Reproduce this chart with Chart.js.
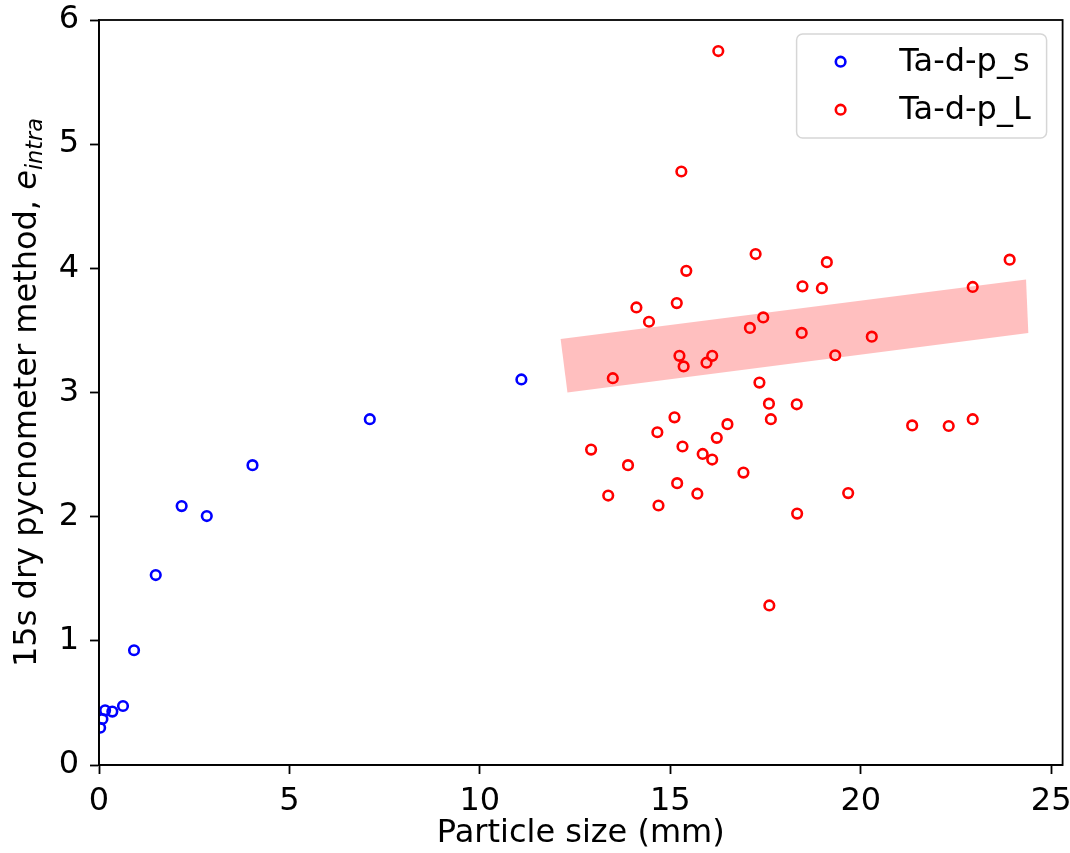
<!DOCTYPE html>
<html><head><meta charset="utf-8">
<script src="https://cdn.jsdelivr.net/npm/chart.js@4"></script>
<style>html,body{margin:0;padding:0;background:#fff;} canvas{display:block;}</style>
</head><body>
<canvas id="c" width="1070" height="853"></canvas>
<script>
const seriesLabels = ['Ta-d-p_s', 'Ta-d-p_L'];
const seriesColors = ['#0000ff', '#ff0000'];

const sizeS = [0.03, 0.09, 0.16, 0.35, 0.63, 0.92, 1.49, 2.17, 2.83, 4.03, 7.11, 11.09];
const eS    = [0.30, 0.37, 0.44, 0.43, 0.475, 0.924, 1.53, 2.085, 2.005, 2.415, 2.785, 3.105];

const sizeL = [16.26, 15.29, 17.24, 19.11, 23.91, 15.42, 18.47, 18.98, 22.94, 14.11,
               15.17, 14.44, 17.44, 17.09, 18.45, 20.29, 15.24, 16.10, 15.35, 15.95,
               13.49, 19.33, 17.34, 17.59, 18.32, 17.64, 15.11, 21.35, 22.31, 22.94,
               16.50, 14.66, 16.22, 12.92, 15.32, 15.85, 16.10, 13.89, 16.92, 15.18,
               15.71, 13.37, 19.67, 14.69, 18.33, 17.60];
const eL    = [5.75, 4.78, 4.115, 4.05, 4.07, 3.98, 3.855, 3.84, 3.85, 3.685,
               3.72, 3.57, 3.605, 3.52, 3.48, 3.45, 3.295, 3.295, 3.21, 3.24,
               3.115, 3.30, 3.08, 2.91, 2.905, 2.785, 2.80, 2.735, 2.73, 2.785,
               2.745, 2.68, 2.635, 2.54, 2.565, 2.505, 2.46, 2.415, 2.355, 2.27,
               2.185, 2.17, 2.19, 2.09, 2.025, 1.285];

// trend band (shaded polygon corners)
const bandX = [12.12, 24.34, 24.40, 12.30];
const bandY = [3.43, 3.91, 3.48, 3.00];

const xTicks = [0, 5, 10, 15, 20, 25];
const yTicks = [0, 1, 2, 3, 4, 5, 6];
const xTitle = 'Particle size (mm)';
const yTitleMain = '15s dry pycnometer method, ';
const yTitleVar = 'e';
const yTitleSub = 'intra';

const FONT = "'DejaVu Sans', sans-serif";
const FS = 32;

const bandPlugin = {
  id: 'band',
  beforeDatasetsDraw(chart) {
    const {ctx, scales: {x, y}, chartArea} = chart;
    ctx.save();
    ctx.beginPath();
    ctx.rect(chartArea.left, chartArea.top, chartArea.right - chartArea.left, chartArea.bottom - chartArea.top);
    ctx.clip();
    ctx.beginPath();
    bandX.forEach((v, i) => {
      const px = x.getPixelForValue(v), py = y.getPixelForValue(bandY[i]);
      if (i === 0) ctx.moveTo(px, py); else ctx.lineTo(px, py);
    });
    ctx.closePath();
    ctx.fillStyle = 'rgba(255,0,0,0.25)';
    ctx.fill();
    ctx.restore();
  }
};

const framePlugin = {
  id: 'frame',
  afterDatasetsDraw(chart) {
    const {ctx, chartArea: a} = chart;
    ctx.save();
    ctx.strokeStyle = '#000';
    ctx.lineWidth = 1.8;
    ctx.strokeRect(a.left, a.top, a.right - a.left, a.bottom - a.top);
    ctx.restore();
  }
};

const legendPlugin = {
  id: 'boxLegend',
  afterDraw(chart) {
    const {ctx, chartArea: a} = chart;
    const bw = 250, bh = 104;
    const bx = a.right - 16 - bw, by = a.top + 14;
    ctx.save();
    ctx.beginPath();
    ctx.roundRect(bx, by, bw, bh, 6);
    ctx.fillStyle = 'rgba(255,255,255,0.8)';
    ctx.fill();
    ctx.strokeStyle = '#d6d6d6';
    ctx.lineWidth = 1.5;
    ctx.stroke();
    chart.data.datasets.forEach((ds, i) => {
      const my = by + 27.7 + i * 48;
      ctx.beginPath();
      ctx.arc(bx + 44, my, 4.8, 0, Math.PI * 2);
      ctx.strokeStyle = ds.borderColor;
      ctx.lineWidth = 2.6;
      ctx.stroke();
      ctx.fillStyle = '#000';
      ctx.font = FS + 'px ' + FONT;
      ctx.textBaseline = 'alphabetic';
      ctx.textAlign = 'left';
      ctx.fillText(ds.label, bx + 102.7, by + 37 + i * 48);
    });
    ctx.restore();
  }
};

const yTitlePlugin = {
  id: 'yTitle',
  afterDraw(chart) {
    const {ctx, chartArea: a} = chart;
    const cy = (a.top + a.bottom) / 2;
    ctx.save();
    ctx.translate(36, cy);
    ctx.rotate(-Math.PI / 2);
    ctx.fillStyle = '#000';
    ctx.textBaseline = 'alphabetic';
    ctx.textAlign = 'left';
    const fMain = FS + 'px ' + FONT;
    const fVar = 'italic ' + FS + 'px ' + FONT;
    const fSub = 'italic ' + (FS * 0.7) + 'px ' + FONT;
    ctx.font = fMain; const w1 = ctx.measureText(yTitleMain).width;
    ctx.font = fVar; const w2 = ctx.measureText(yTitleVar).width;
    ctx.font = fSub; const w3 = ctx.measureText(yTitleSub).width;
    let x0 = -(w1 + w2 + w3) / 2;
    ctx.font = fMain; ctx.fillText(yTitleMain, x0, 0); x0 += w1;
    ctx.font = fVar; ctx.fillText(yTitleVar, x0, 0); x0 += w2;
    ctx.font = fSub; ctx.fillText(yTitleSub, x0, 6);
    ctx.restore();
  }
};

const tickFont = {family: FONT, size: FS};

function pointDataset(label, color, xs, ys) {
  return {
    label,
    data: xs.map((v, i) => ({x: v, y: ys[i]})),
    borderColor: color, backgroundColor: 'rgba(0,0,0,0)',
    pointBackgroundColor: 'rgba(0,0,0,0)', pointBorderColor: color,
    pointRadius: 4.8, pointHoverRadius: 4.8, borderWidth: 2.6, pointBorderWidth: 2.6,
    showLine: false, clip: 0
  };
}

new Chart(document.getElementById('c'), {
  type: 'scatter',
  data: {
    datasets: [
      pointDataset(seriesLabels[0], seriesColors[0], sizeS, eS),
      pointDataset(seriesLabels[1], seriesColors[1], sizeL, eL)
    ]
  },
  options: {
    responsive: false,
    animation: false,
    devicePixelRatio: 1,
    layout: {padding: {left: 0, right: 6, top: 20, bottom: 0}},
    plugins: {legend: {display: false}, tooltip: {enabled: false}},
    scales: {
      x: {
        type: 'linear', min: 0, max: 25.3,
        afterBuildTicks: (ax) => { ax.ticks = xTicks.map(v => ({value: v})); },
        afterFit: (s) => { s.height = 88; s.paddingLeft = 0; s.paddingRight = 0; },
        ticks: {font: tickFont, color: '#000', padding: 8, maxRotation: 0, autoSkip: false},
        grid: {display: true, drawOnChartArea: false, drawTicks: true, tickLength: 9, tickColor: '#000', tickWidth: 1.8},
        border: {display: true, color: '#000', width: 1.8},
        title: {display: true, text: xTitle, font: tickFont, color: '#000', padding: {top: 0, bottom: 0}}
      },
      y: {
        type: 'linear', min: 0, max: 6,
        afterBuildTicks: (ax) => { ax.ticks = yTicks.map(v => ({value: v})); },
        afterFit: (s) => { s.width = 99; s.paddingTop = 0; s.paddingBottom = 0; },
        ticks: {font: tickFont, color: '#000', padding: 11, autoSkip: false},
        grid: {display: true, drawOnChartArea: false, drawTicks: true, tickLength: 9, tickColor: '#000', tickWidth: 1.8},
        border: {display: true, color: '#000', width: 1.8}
      }
    }
  },
  plugins: [bandPlugin, framePlugin, legendPlugin, yTitlePlugin]
});
</script>
</body></html>
